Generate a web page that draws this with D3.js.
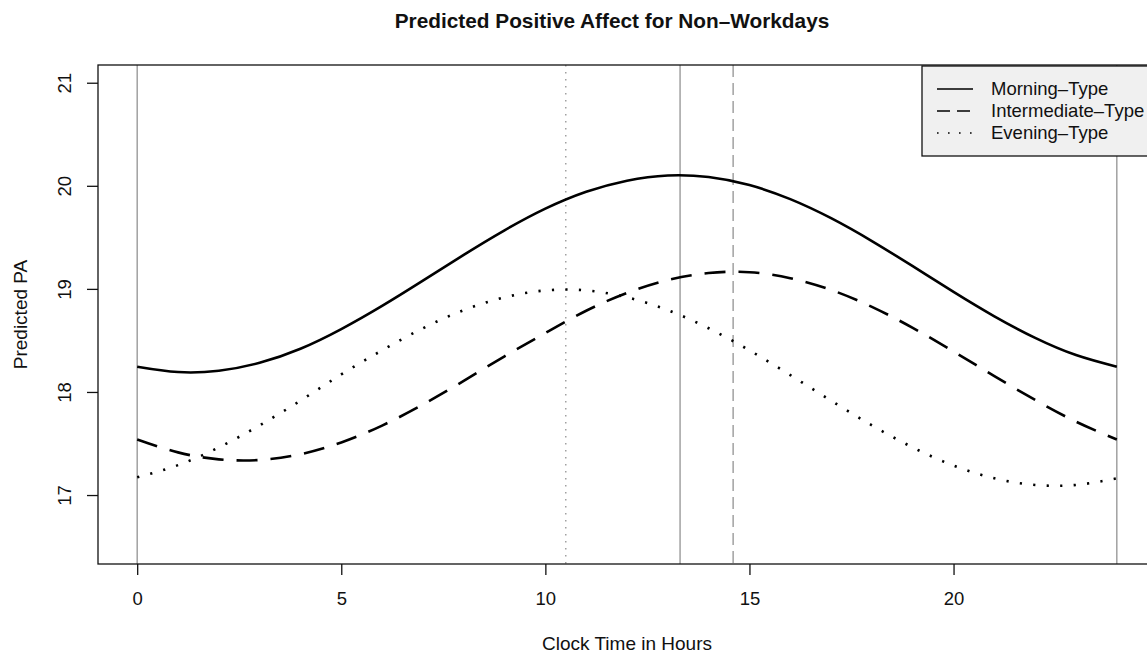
<!DOCTYPE html>
<html>
<head>
<meta charset="utf-8">
<script src="https://cdn.jsdelivr.net/npm/d3@7"></script>
<style>
  body { margin: 0; background: #fff; }
  text { font-family: "Liberation Sans", Arial, sans-serif; fill: #111; }
</style>
</head>
<body>
<div id="chart"></div>
<script>
// clock hours and predicted PA, one value per hour
const hours = [0,1,2,3,4,5,6,7,8,9,10,11,12,13,14,15,16,17,18,19,20,21,22,23,24];
const morning = [18.245,18.193,18.206,18.283,18.419,18.610,18.835,19.080,19.330,19.568,19.778,19.942,20.050,20.100,20.085,20.007,19.871,19.686,19.464,19.220,18.971,18.734,18.525,18.358,18.245];
const intermediate = [17.539,17.414,17.346,17.340,17.396,17.510,17.674,17.878,18.107,18.346,18.572,18.788,18.961,19.086,19.154,19.162,19.104,18.990,18.826,18.622,18.393,18.154,17.922,17.712,17.539];
const evening = [17.172,17.290,17.462,17.676,17.916,18.170,18.404,18.618,18.794,18.918,18.985,18.985,18.918,18.794,18.618,18.404,18.164,17.916,17.676,17.462,17.286,17.162,17.098,17.098,17.162];

// peak times marked with vertical reference lines
const peaks = [
  {name: "Morning-Type", hour: 13.3, dash: null},
  {name: "Intermediate-Type", hour: 14.6, dash: "12,6"},
  {name: "Evening-Type", hour: 10.5, dash: "1.5,5.5"}
];
const bounds = [0, 24];

const xTicks = [0, 5, 10, 15, 20];
const yTicks = [17, 18, 19, 20, 21];

const series = [
  {label: "Morning\u2013Type", values: morning, dash: null, legendDash: null},
  {label: "Intermediate\u2013Type", values: intermediate, dash: "21,13", legendDash: "13,7"},
  {label: "Evening\u2013Type", values: evening, dash: "2.2,11.3", legendDash: "1.6,9.4"}
];

let width = 1147, height = 654;
let margin = {top: 65, right: -9, bottom: 90, left: 98};

let x = d3.scaleLinear().domain([-0.96, 24.96]).range([margin.left, width - margin.right]);
let y = d3.scaleLinear().domain([16.331, 21.172]).range([height - margin.bottom, margin.top]);

let svg = d3.select("#chart")
  .append("svg")
    .attr("width", width)
    .attr("height", height);

// title
svg.append("text")
  .attr("x", 612)
  .attr("y", 28)
  .attr("text-anchor", "middle")
  .style("font-weight", "bold")
  .style("font-size", "20.8px")
  .text("Predicted Positive Affect for Non\u2013Workdays");

// vertical reference lines (day bounds + peak times)
svg.selectAll("line.bound")
  .data(bounds)
  .join("line")
    .attr("class", "bound")
    .attr("x1", d => x(d)).attr("x2", d => x(d))
    .attr("y1", y.range()[1]).attr("y2", y.range()[0])
    .style("stroke", "#9a9a9a")
    .style("stroke-width", 1.4);

svg.selectAll("line.peak")
  .data(peaks)
  .join("line")
    .attr("class", "peak")
    .attr("x1", d => x(d.hour)).attr("x2", d => x(d.hour))
    .attr("y1", y.range()[1]).attr("y2", y.range()[0])
    .style("stroke", "#9a9a9a")
    .style("stroke-width", 1.4)
    .style("stroke-dasharray", d => d.dash);

// curves
let line = d3.line()
  .x((d, i) => x(hours[i]))
  .y(d => y(d))
  .curve(d3.curveNatural);

svg.selectAll("path.curve")
  .data(series)
  .join("path")
    .attr("class", "curve")
    .attr("d", d => line(d.values))
    .style("fill", "none")
    .style("stroke", "#000")
    .style("stroke-width", 2.6)
    .style("stroke-dasharray", d => d.dash);

// plot box
svg.append("rect")
  .attr("x", margin.left)
  .attr("y", margin.top)
  .attr("width", x.range()[1] - margin.left)
  .attr("height", y.range()[0] - margin.top)
  .style("fill", "none")
  .style("stroke", "#111")
  .style("stroke-width", 1.3);

// axes
let xAxis = svg.append("g")
  .attr("transform", "translate(0," + y.range()[0] + ")")
  .call(d3.axisBottom(x).tickValues(xTicks).tickSize(11).tickPadding(17).tickFormat(d3.format("d")));

let yAxis = svg.append("g")
  .attr("transform", "translate(" + margin.left + ",0)")
  .call(d3.axisLeft(y).tickValues(yTicks).tickSize(11).tickPadding(0).tickFormat(d3.format("d")));

xAxis.select(".domain").remove();
yAxis.select(".domain").remove();
svg.selectAll(".tick line").style("stroke", "#111").style("stroke-width", 1.3);
xAxis.selectAll(".tick text")
  .style("font-size", "18.5px")
  .style("font-family", "Liberation Sans, Arial, sans-serif")
  .attr("dy", "0.71em");

yAxis.selectAll(".tick text")
  .style("font-size", "18.5px")
  .style("font-family", "Liberation Sans, Arial, sans-serif")
  .attr("x", 0).attr("dy", 0)
  .attr("text-anchor", "middle")
  .attr("transform", "translate(-27,0) rotate(-90)");

// axis titles
svg.append("text")
  .attr("x", (x.range()[0] + x.range()[1]) / 2)
  .attr("y", 650)
  .attr("text-anchor", "middle")
  .style("font-size", "19px")
  .text("Clock Time in Hours");

svg.append("text")
  .attr("transform", "translate(27," + (margin.top + y.range()[0]) / 2 + ") rotate(-90)")
  .attr("text-anchor", "middle")
  .style("font-size", "19px")
  .text("Predicted PA");

// legend
let legend = svg.append("g").attr("transform", "translate(922,66)");
legend.append("rect")
  .attr("width", 240)
  .attr("height", 90)
  .style("fill", "#f0f0f0")
  .style("stroke", "#111")
  .style("stroke-width", 1.3);

let row = legend.selectAll("g.row")
  .data(series)
  .join("g")
    .attr("class", "row")
    .attr("transform", (d, i) => "translate(0," + (23 + i * 22) + ")");

row.append("line")
  .attr("x1", 15).attr("x2", 51)
  .style("stroke", "#000")
  .style("stroke-width", 1.4)
  .style("stroke-dasharray", d => d.legendDash);

row.append("text")
  .attr("x", 69)
  .attr("dy", "0.35em")
  .style("font-size", "18.5px")
  .text(d => d.label);
</script>
</body>
</html>
